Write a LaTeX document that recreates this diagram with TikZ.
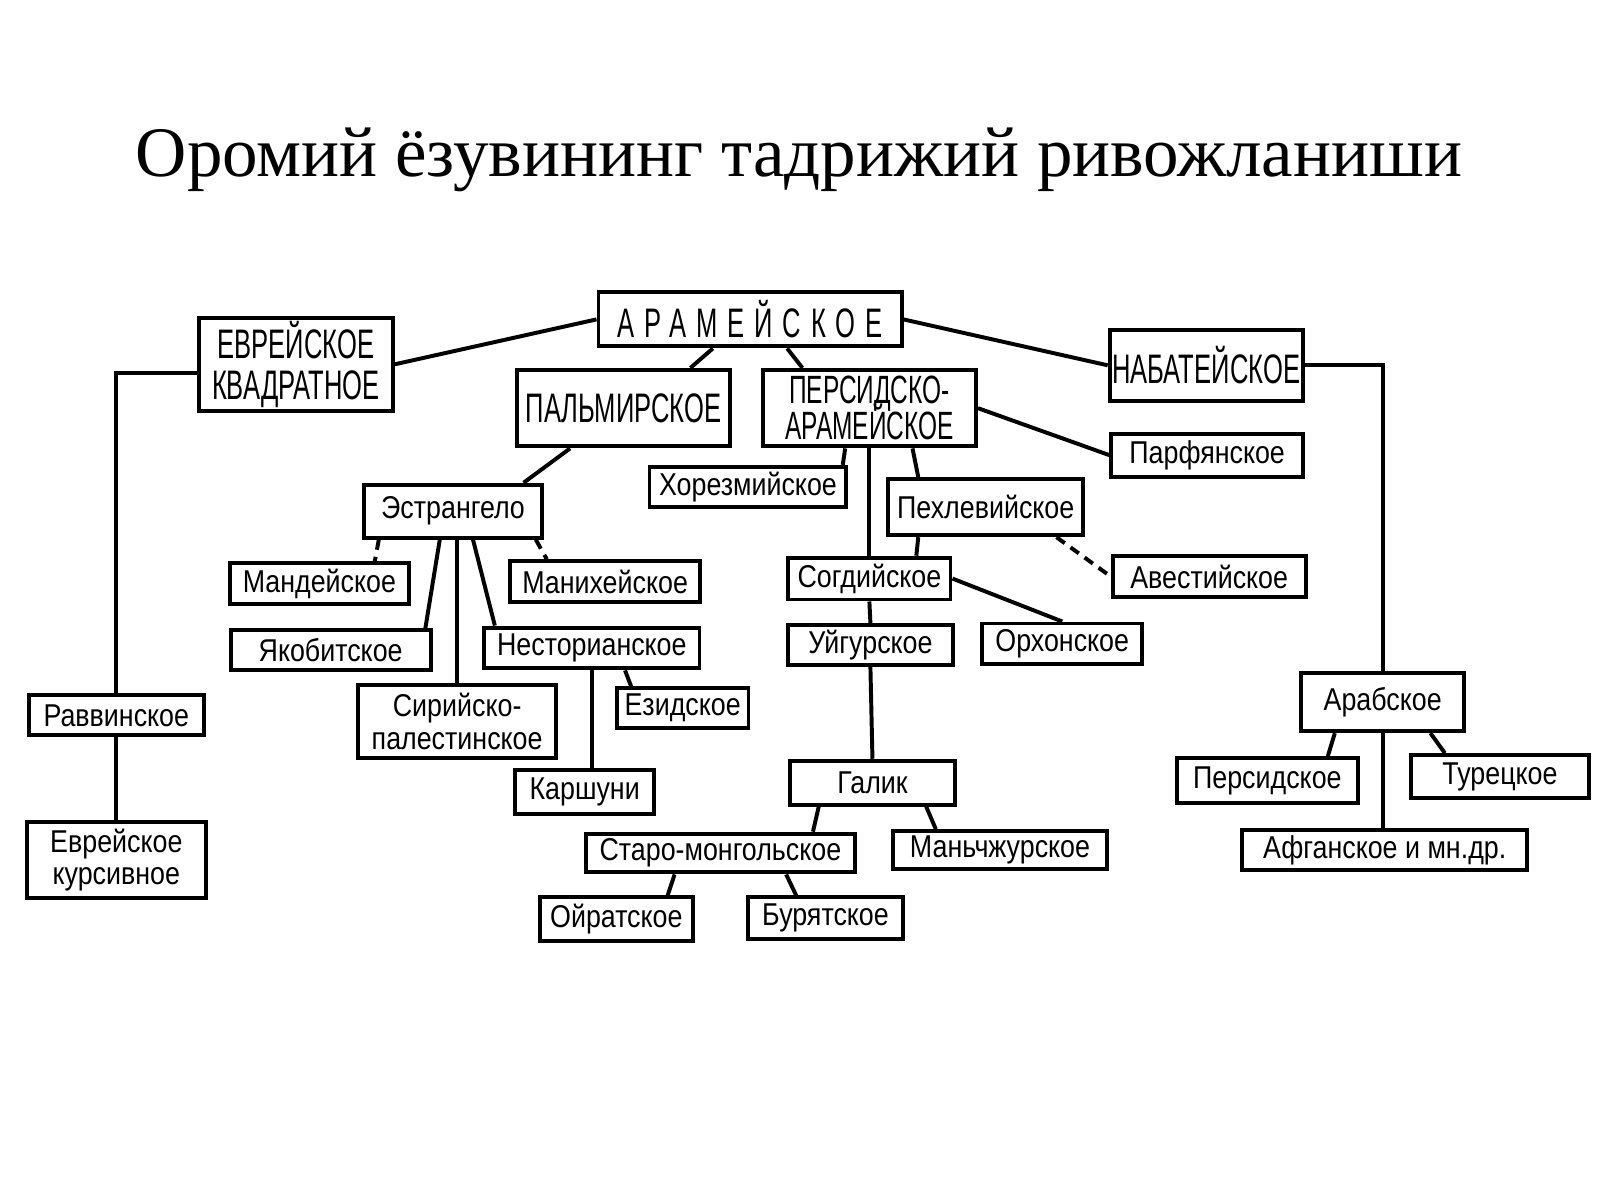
\documentclass[tikz,border=0pt]{standalone}
\usepackage{fontspec}
\newfontfamily\titlefam{Liberation Serif}
\newfontfamily\lowfam[FakeStretch=0.85]{Liberation Sans}
\newfontfamily\capfam[FakeStretch=0.62]{Liberation Sans}
\newfontfamily\spacefam[FakeStretch=0.62,LetterSpace=24]{Liberation Sans}
\newcommand{\tightlines}{\lineskiplimit=-20pt\relax}
\newcommand{\mkbox}[7][]{\node[box,#1,minimum width=#5*0.1mm,minimum height=#6*0.1mm] (#2) at (#3,#4) {#7};}

\begin{document}
\begin{tikzpicture}[
    x=0.1mm, y=-0.1mm,
    box/.style={draw,line width=1.1pt,inner sep=0pt,align=center,
      font=\lowfam\fontsize{8.8pt}{9pt}\selectfont},
    caps/.style={font=\capfam\fontsize{11.5pt}{11.4pt}\selectfont},
    spaced/.style={font=\spacefam\fontsize{11.5pt}{11.4pt}\selectfont},
    capstight/.style={font=\capfam\fontsize{11pt}{10pt}\selectfont\tightlines},
    link/.style={line width=1.1pt},
    dashlink/.style={link,dash pattern=on 1mm off 0.7mm},
    ]
    \path[use as bounding box,fill=white] (0,0) rectangle (1568,1176);
    \node[font=\titlefam\fontsize{19.8pt}{24pt}\selectfont,anchor=base] (title) at (783,173) {Оромий ёзувининг тадрижий ривожланиши};

    % top level
    \mkbox[spaced]{aram}{735}{313}{297}{53}{АРАМЕЙСКОЕ}
    \mkbox[caps]{evrkv}{290}{357}{190}{91}{ЕВРЕЙСКОЕ\\КВАДРАТНОЕ}
    \mkbox[caps]{nabat}{1182}{358}{189}{70}{НАБАТЕЙСКОЕ}
    \mkbox[caps]{palm}{611}{400}{208}{75}{ПАЛЬМИРСКОЕ}
    \mkbox[capstight]{persar}{852}{400}{209}{75}{ПЕРСИДСКО-\\АРАМЕЙСКОЕ}

    % second level
    \mkbox{parf}{1183}{446}{188}{42}{Парфянское}
    \mkbox{horez}{733}{477}{193}{39}{Хорезмийское}
    \mkbox{estr}{444}{501}{175}{52}{Эстрангело}
    \mkbox{pehl}{966}{497}{191}{55}{Пехлевийское}
    \mkbox{mand}{313}{572}{176}{40}{Мандейское}
    \mkbox{manih}{593}{570}{186}{40}{Манихейское}
    \mkbox{sogd}{852}{567}{159}{41}{Согдийское}
    \mkbox{avest}{1185}{565}{189}{40}{Авестийское}
    \mkbox{jakob}{324}{637}{196}{39}{Якобитское}
    \mkbox{nestor}{580}{635}{211}{40}{Несторианское}
    \mkbox{uigur}{853}{632}{161}{39}{Уйгурское}
    \mkbox{orhon}{1041}{631}{157}{40}{Орхонское}
    \mkbox{sirpal}{448}{707}{194}{71}{Сирийско-\\палестинское}
    \mkbox{ezid}{669}{694}{129}{39}{Езидское}
    \mkbox{ravv}{114}{701}{172}{39}{Раввинское}
    \mkbox{arab}{1355}{688}{160}{57}{Арабское}
    \mkbox{karsh}{573}{776}{136}{43}{Каршуни}
    \mkbox{galik}{855}{767}{162}{43}{Галик}
    \mkbox{persid}{1242}{765}{177}{44}{Персидское}
    \mkbox{turec}{1470}{761}{175}{42}{Турецкое}
    \mkbox{evrkur}{114}{843}{176}{74}{Еврейское\\курсивное}
    \mkbox{staro}{706}{836}{263}{38}{Старо-монгольское}
    \mkbox{manch}{980}{833}{210}{37}{Маньчжурское}
    \mkbox{afgan}{1357}{833}{279}{39}{Афганское и мн.др.}
    \mkbox{oirat}{604}{901}{150}{43}{Ойратское}
    \mkbox{burjat}{809}{900}{152}{41}{Бурятское}

    % links
    \draw[link] (aram.west) -- (evrkv.east);
    \draw[link] (aram.east) -- (nabat.west);
    \draw[link] (aram.218) -- (palm.31);
    \draw[link] (aram.322) -- (persar.149);
    \draw[link] (evrkv.185) -| (ravv.north);
    \draw[link] (ravv.south) -- (evrkur.north);
    \draw[link] (nabat.east) -| (arab.north);
    \draw[link] (arab.213) -- (persid.22);
    \draw[link] (arab.327) -- (turec.157);
    \draw[link] (arab.south) -- (arab.south |- afgan.north);
    \draw[link] (persar.east) -- (parf.west);
    \draw[link] (persar.239) -- (horez.13);
    \draw[link] (persar.south) -- (sogd.north);
    \draw[link] (persar.317) -- (pehl.156);
    \draw[link] (pehl.204) -- (sogd.26);
    \draw[dashlink] (pehl.337) -- (avest.west);
    \draw[link] (sogd.east) -- (orhon.north);
    \draw[link] (sogd.south) -- (uigur.north);
    \draw[link] (uigur.south) -- (galik.north);
    \draw[link] (galik.204) -- (staro.13);
    \draw[link] (galik.336) -- (manch.162);
    \draw[link] (staro.205) -- (oirat.25);
    \draw[link] (staro.342) -- (burjat.142);
    \draw[link] (palm.217) -- (estr.22);
    \draw[dashlink] (estr.201) -- (mand.22);
    \draw[dashlink] (estr.341) -- (manih.159);
    \draw[link] (estr.245) -- (jakob.13);
    \draw[link] (sirpal.north |- estr.south) -- (sirpal.north);
    \draw[link] (estr.305) -- (nestor.167);
    \draw[link] (nestor.south) -- (nestor.south |- karsh.north);
    \draw[link] (nestor.326) -- (ezid.157);
\end{tikzpicture}
\end{document}
